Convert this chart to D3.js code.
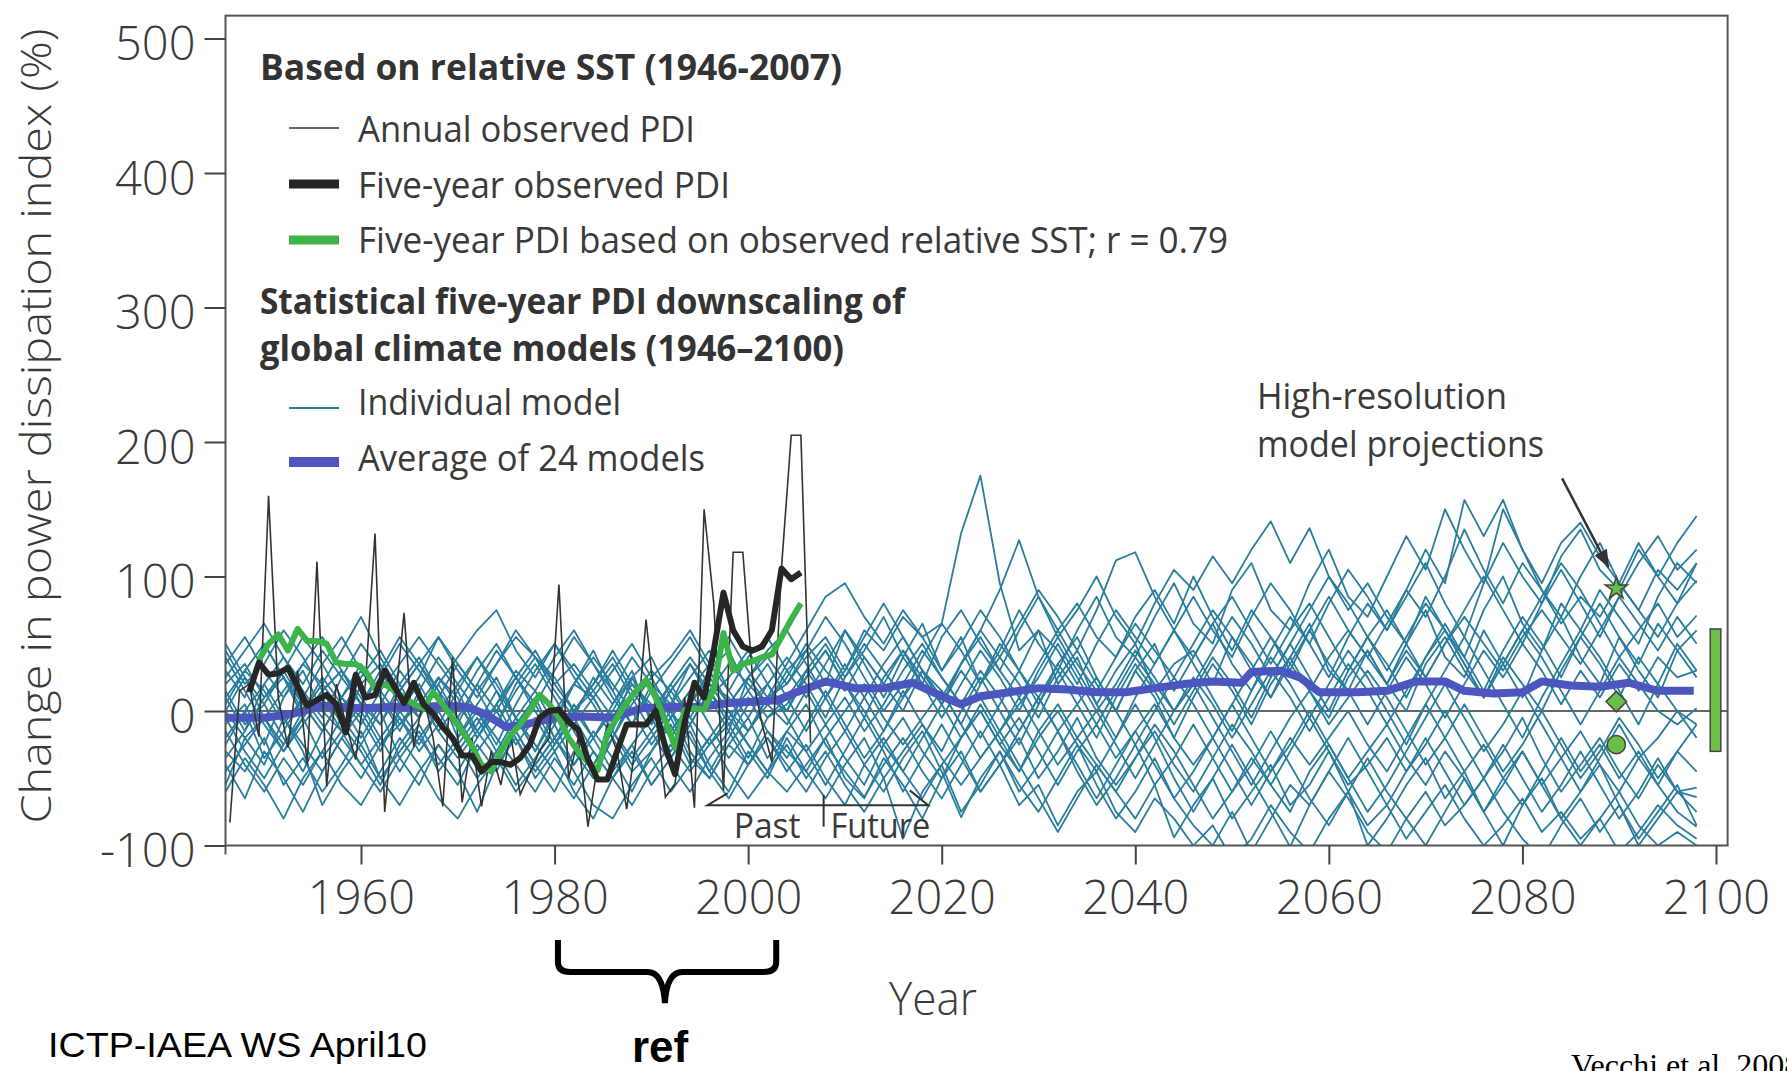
<!DOCTYPE html>
<html>
<head>
<meta charset="utf-8">
<script src="https://cdn.jsdelivr.net/npm/d3@7"></script>
<style>
  body { margin: 0; background: #fff; }
  svg { display: block; font-family: "Open Sans", sans-serif; }
</style>
</head>
<body>
<svg width="1787" height="1071"></svg>
<script>
// ---- data ----
const yTicks = [-100, 0, 100, 200, 300, 400, 500];
const xTicks = [1960, 1980, 2000, 2020, 2040, 2060, 2080, 2100];

// annual observed PDI, 1946-2006
const annualYears = d3.range(1946, 2007);
const annualPDI = [
  -83, 15, 20, -19, 160, 10, -27, 30, -40, 111,
  -56, 20, -10, -36, 20, 132, -75, 0, 73, -27,
  10, -20, -71, 40, -68, -20, -71, -30, -55, -17,
  -62, -46, -30, -20, 94, -50, -20, -86, -40, -10,
  -30, -73, -20, 68, 0, -64, -54, 10, -72, 150,
  80, -59, 118, 118, 25, -10, -38, 107, 205, 205, -24
];

// five-year observed PDI, 1948-2005
const fiveYearYears = d3.range(1948, 2006);
const fiveYearPDI = [
  14, 36, 27, 28, 32, 18, 4, 8, 12, 5,
  -16, 27, 10, 12, 30, 18, 6, 21, 5, -2,
  -12, -20, -33, -33, -45, -38, -38, -40, -35, -25,
  -5, 0, 1, -8, -14, -36, -51, -51, -30, -10,
  -10, -10, 0, -27, -47, -8, 21, 10, 45, 88,
  60, 48, 45, 48, 60, 106, 98, 103
];

// five-year PDI from observed relative SST, 1949-2005
const sstYears = d3.range(1949, 2006);
const sstPDI = [
  38, 50, 57, 45, 61, 52, 52, 50, 36, 35,
  35, 30, 17, 20, 15, 10, 5, 2, 14, 5,
  -5, -15, -26, -40, -45, -30, -18, -10, 0, 12,
  5, -5, -20, -30, -38, -44, -17, -5, 6, 15,
  23, 10, -7, -27, 1, 2, 1, 16, 58, 30,
  35, 37, 40, 42, 55, 68, 80
];

// average of 24 models
const avgYears = [1946, 1950, 1953, 1956, 1960, 1963, 1966, 1969, 1971, 1973,
  1975, 1977, 1980, 1983, 1986, 1989, 1992, 1995, 1998, 2001,
  2003, 2005, 2008, 2011, 2014, 2017, 2020, 2022, 2024, 2027,
  2030, 2033, 2036, 2039, 2042, 2045, 2048, 2051, 2052, 2055,
  2057, 2059, 2063, 2066, 2069, 2072, 2074, 2077, 2080, 2082,
  2085, 2088, 2091, 2094, 2097.7];
const avgPDI = [-5, -5, -2, 4, 2, 3, 3, 4, 3, -3,
  -12, -10, -5, -4, -5, 2, 3, 3, 6, 7,
  8, 14, 22, 17, 17, 21, 11, 5, 11, 14,
  17, 16, 14, 14, 17, 20, 22, 21, 29, 30,
  25, 14, 14, 15, 22, 22, 15, 13, 14, 22,
  19, 18, 21, 15, 15];

// individual downscaled models, every second year 1946-2098
const modelYears = d3.range(1946, 2099, 2);
const modelRuns = [
  [20,35,10,25,-5,15,30,5,-10,20, 40,15,-20,5,25,-5,-30,0,20,10, -15,25,40,10,-10,15,35,20,5,30,
   45,20,60,35,10,40,65,30,55,20, 45,75,50,30,60,85,55,40,70,95, 65,50,90,110,75,60,95,120,85,70,
   100,130,105,150,120,95,125,100,80,115, 135,105,90,120,100,125,145],
  [-10,5,-25,10,30,0,-15,20,35,10, -5,25,10,-20,5,30,15,-10,20,45, 15,-10,20,5,35,10,-15,25,40,20,
   40,55,30,60,45,70,55,65,132,175, 95,45,60,20,40,5,30,50,15,35, 45,20,55,35,10,40,65,30,15,45,
   20,50,75,40,25,60,35,10,45,70, 40,20,55,30,10,45,25],
  [-30,-45,-20,-55,-35,-60,-40,-15,-50,-30, -10,-35,-55,-25,-45,-15,-40,-60,-30,-50, -20,-45,-30,-5,-35,-50,-25,-40,-15,-30,
   -45,-20,-50,-65,-35,-55,-80,-50,-30,-60, -40,-70,-55,-85,-60,-45,-75,-90,-65,-80, -100,-85,-110,-95,-70,-90,-105,-80,-60,-85,
   -70,-95,-75,-55,-80,-100,-85,-65,-90,-75, -95,-80,-105,-90,-70,-85,-95],
  [10,-15,20,40,15,-5,25,50,30,5, 25,55,30,10,35,60,40,15,-5,25, 5,30,-10,15,35,10,25,45,20,0,
   30,50,25,45,70,40,20,55,75,50, 30,60,85,55,75,100,70,50,80,105, 90,115,95,120,141,110,136,100,75,95,
   70,50,85,60,40,75,100,65,45,80, 60,90,70,50,85,110,95],
  [45,20,35,60,40,15,30,5,25,50, 30,10,35,15,-10,20,40,25,0,15, 35,10,-15,5,25,45,15,-5,20,40,
   20,-5,25,50,30,10,40,65,45,20, 50,30,5,35,55,25,0,30,50,15, 40,65,35,15,45,70,50,25,55,80,
   60,85,110,80,55,95,150,120,90,70, 100,125,95,75,105,90,110],
  [-55,-20,-40,-5,-30,-70,-45,-25,0,-35, -55,-25,-45,-75,-40,-20,-50,-30,-60,-80, -50,-30,-55,-35,-10,-40,-60,-30,-50,-20,
   -45,-65,-40,-20,-50,-95,-60,-40,-75,-55, -30,-60,-40,-15,-45,-70,-50,-25,-55,-94, -70,-50,-80,-60,-40,-70,-55,-30,-60,-100,
   -80,-55,-35,-65,-45,-75,-100,-70,-50,-80, -60,-40,-70,-95,-75,-55,-85],
  [5,30,15,-10,10,35,55,30,10,-15, 15,40,20,0,-25,5,30,50,25,5, -20,10,30,15,-5,20,10,-15,5,25,
   50,30,15,40,20,0,30,15,-10,20, 40,20,-5,25,45,20,0,30,10,-20, 10,35,15,-10,20,40,15,-5,25,45,
   20,0,35,55,30,10,40,20,0,30, 55,35,10,40,20,50,30],
  [-20,0,-35,-15,10,-10,-30,-50,-25,-5, -30,-10,15,-15,-35,-10,10,-20,-40,-15, -35,-60,-30,-10,-40,-20,0,-25,-45,-15,
   -30,-10,-35,-55,-25,-5,-30,-50,-20,0, -25,-45,-15,5,-20,-40,-60,-35,-15,-40, -60,-35,-10,-30,-55,-75,-45,-25,-50,-30,
   -10,-35,-55,-30,-50,-75,-50,-30,-55,-35, -15,-40,-60,-35,-55,-30,-45],
  [30,10,50,25,0,20,45,70,40,15, 35,10,-10,20,45,25,5,30,55,35, 15,40,20,-5,15,35,55,30,10,35,
   60,85,95,70,50,75,55,30,50,75, 55,30,60,45,20,50,75,55,35,60, 85,60,40,70,95,75,50,80,105,85,
   60,90,120,95,157,130,157,120,95,125, 140,115,95,125,100,80,110],
  [-40,-65,-30,-50,-75,-45,-20,-40,-60,-35, -15,-45,-25,-5,-30,-55,-35,-10,-40,-20, -45,-25,-55,-35,-15,-45,-65,-40,-20,-45,
   -25,-50,-70,-40,-60,-35,-15,-45,-79,-50, -30,-55,-75,-50,-25,-55,-80,-60,-35,-65, -85,-100,-75,-105,-80,-55,-70,-45,-65,-90,
   -105,-80,-60,-85,-70,-50,-75,-95,-110,-85, -65,-90,-70,-100,-80,-60,-75],
  [15,-10,5,-20,-45,-15,10,-5,-30,0, 20,-5,-30,-10,15,-15,-40,-20,5,-20, 0,25,-5,-30,-10,15,-10,-35,-5,10,
   -15,10,35,10,-15,15,-10,-30,0,25, 0,-25,5,30,5,-20,10,35,15,-10, 15,40,20,-5,25,50,25,0,30,55,
   35,10,40,65,40,15,45,70,50,25, 55,80,55,35,65,45,60],
  [0,25,-5,-25,0,25,5,-20,5,30, 10,-15,5,30,50,25,0,-25,0,20, 45,20,0,-20,5,30,45,15,-5,5,
   25,45,20,-5,25,45,20,-5,20,45, 25,0,30,55,30,5,-20,10,35,60, 35,10,-15,15,40,20,-5,20,45,25,
   0,-25,5,30,55,30,5,-20,10,35, 60,40,15,-10,20,0,-20],
  [-5,-30,-50,-25,-5,-35,-15,5,-20,-45, -20,0,-25,-50,-30,-5,-25,-45,-65,-40, -15,-40,-20,0,-30,-50,-25,-5,-35,-15,
   5,-25,-45,-64,-40,-20,-45,-65,-40,-15, -40,-20,-50,-30,-5,-35,-55,-35,-10,-30, -55,-80,-60,-35,-55,-30,-5,-30,-55,-40,
   -20,-45,-25,0,-25,-50,-30,-5,-35,-60, -40,-20,-45,-65,-40,-60,-64],
  [35,55,30,10,35,20,0,25,45,20, -5,20,40,60,75,45,25,50,30,10, 30,50,25,40,60,35,15,40,55,30,
   10,35,60,40,20,45,25,5,35,60, 90,127,85,60,80,55,40,70,90,65, 100,70,45,75,55,30,60,85,60,40,
   65,90,70,100,135,105,80,110,90,65, 85,70,95,75,55,80,97],
  [-25,0,20,-5,-25,-45,-20,0,-25,-10, 10,-15,-35,-15,5,-20,-45,-25,-5,-30, -50,-25,-5,20,-5,-25,-10,10,-15,-35,
   -10,15,-10,-35,-15,10,30,5,-20,5, -20,-45,-20,0,-25,-45,-20,5,-20,-50, -75,-50,-25,-50,-75,-101,-70,-45,-20,-45,
   -70,-45,-20,-45,-70,-50,-25,-50,-75,-55, -30,-55,-80,-60,-35,-60,-57],
  [50,25,5,30,55,35,10,-10,15,35, 55,35,15,40,20,-5,15,40,60,35, 10,-10,15,35,55,30,5,25,45,60,
   35,10,30,55,80,55,30,5,35,60, 40,65,90,70,45,75,112,118,85,60, 40,65,85,60,35,60,80,55,30,55,
   75,50,25,50,75,100,75,50,80,105, 80,55,85,110,130,105,120],
  [-60,-35,-55,-80,-50,-30,-55,-70,-45,-20, -40,-65,-80,-55,-35,-60,-40,-20,-45,-70, -80,-55,-35,-60,-40,-20,-45,-65,-45,-25,
   -50,-30,-55,-75,-50,-30,-10,-35,-55,-35, -15,-40,-65,-90,-65,-40,-60,-80,-55,-35, -10,-35,-60,-40,-15,-40,-65,-85,-60,-35,
   -60,-80,-100,-75,-50,-75,-55,-30,-55,-80, -100,-80,-60,-85,-100,-90,-100],
  [25,45,65,40,20,45,25,5,30,55, 35,15,-5,20,0,25,45,20,0,-20, 5,25,0,20,40,20,0,-15,10,20,
   45,70,50,25,0,20,45,25,5,30, 10,-15,10,35,15,-10,15,40,20,0, 25,5,-20,5,30,10,-15,10,35,15,
   -10,15,40,60,35,10,35,60,40,15, -10,15,40,20,0,-10,2],
  [-35,-15,10,30,5,-15,10,35,15,-5, -25,0,20,40,15,-5,-30,-5,20,40, 20,0,-25,-5,15,-10,-35,-15,10,0,
   25,45,20,0,-25,-45,-20,5,30,10, -15,5,25,50,25,0,20,45,25,0, 20,45,70,50,25,50,75,100,80,55,
   30,55,80,60,35,10,35,60,85,110, 90,65,40,60,80,55,71],
  [40,15,-10,-30,-5,15,-10,-30,-55,-25, -5,20,-5,-30,-10,15,35,10,-15,-40, -20,5,25,0,-20,-45,-20,5,20,-5,
   -30,-55,-30,-5,-30,-60,-35,-10,-35,-60, -40,-15,10,-15,-40,-65,-40,-15,-40,-65, -45,-20,5,-20,-45,-25,0,-25,-50,-75,
   -55,-30,-5,20,-5,-30,-10,15,-10,-35, -60,-35,-10,-35,-20,0,-10],
  [10,30,50,25,5,-15,10,30,10,-10, 5,25,5,-15,5,25,5,-20,0,20, 40,15,-5,15,35,15,-5,15,35,10,
   30,10,-15,10,35,55,30,10,35,55, 30,10,35,60,35,15,40,65,45,25, 50,75,55,30,55,35,15,40,60,40,
   20,45,25,50,70,50,30,55,75,55, 35,60,85,65,45,70,50],
  [-15,-40,-60,-35,-55,-30,-5,-25,-50,-70, -45,-25,-45,-20,0,-25,-5,-30,-10,10, -15,-35,-15,-40,-60,-35,-15,-40,-20,-40,
   -60,-35,-15,-40,-20,-45,-65,-40,-20,0, -25,-5,-30,-55,-30,-10,-35,-15,5,-20, -40,-20,-45,-70,-45,-20,-40,-20,0,-25,
   -45,-20,5,-20,-45,-25,-50,-70,-45,-20, -45,-25,-50,-30,-55,-75,-86],
  [0,-20,-5,15,35,55,30,10,-10,15, 35,55,35,15,35,55,40,20,35,15, -5,20,5,-15,5,25,5,25,5,-10,
   15,-10,10,-15,5,30,50,25,5,-20, 5,30,10,-15,5,25,0,-25,0,25, 5,-20,5,30,10,35,60,35,15,-10,
   15,40,20,-5,20,45,25,50,30,5, 30,10,35,15,40,25,30],
  [-45,-25,-5,-30,-10,10,-15,-40,-20,0, -20,-40,-20,0,-20,-40,-60,-35,-55,-30, -50,-70,-45,-25,-45,-25,-5,-25,-45,-60,
   -40,-20,0,20,-5,-25,-5,15,-10,-35, -15,10,-15,-40,-20,0,-25,-50,-25,0, 20,-5,-30,-55,-30,-5,15,-10,10,30,
   10,-15,-40,-20,5,-20,-45,-25,0,-25, -50,-30,-5,-25,-50,-30,-10]
];

// high-resolution model projections (year, value) and their range bar
const hiResYear = 2089.7;
const hiResStar = 91, hiResDiamond = 7, hiResCircle = -25;
const rangeBar = { from: 2099.4, to: 2100.5, low: -30, high: 61 };

// ---- drawing ----
const svg = d3.select("svg");
const textColor = "#3a3a3a";
const modelColor = "#2a7e9d";

const x = d3.scaleLinear().domain([1946, 2100]).range([225.5, 1716]);
const y = d3.scaleLinear().domain([-100, 500]).range([845.5, 38.5]);
const xLeft = x(1946), xRight = x(2101.2), yTop = y(517), yBottom = y(-100);

svg.append("rect").attr("width", 1787).attr("height", 1071).attr("fill", "#fff");

svg.append("defs").append("clipPath").attr("id", "plotClip")
  .append("rect").attr("x", xLeft).attr("y", yTop)
  .attr("width", xRight - xLeft).attr("height", yBottom - yTop);

svg.select("defs").append("marker")
  .attr("id", "arrowHead").attr("markerUnits", "userSpaceOnUse")
  .attr("markerWidth", 18).attr("markerHeight", 14)
  .attr("refX", 17).attr("refY", 7).attr("orient", "auto")
  .append("path").attr("d", "M0,0 L18,7 L0,14 Z").attr("fill", "#333");

// helper for text of a given width
function label(g, txt, px, py, size, opts = {}) {
  const t = g.append("text")
    .attr("x", px).attr("y", py)
    .attr("font-size", size)
    .attr("fill", opts.fill || textColor)
    .attr("font-weight", opts.weight || 400)
    .attr("text-anchor", opts.anchor || "start")
    .text(txt);
  if (opts.family) t.attr("font-family", opts.family);
  if (opts.width) t.attr("textLength", opts.width).attr("lengthAdjust", "spacingAndGlyphs");
  return t;
}

// zero line
svg.append("line")
  .attr("x1", xLeft).attr("x2", xRight).attr("y1", y(0)).attr("y2", y(0))
  .attr("stroke", "#666").attr("stroke-width", 2);

const plot = svg.append("g").attr("clip-path", "url(#plotClip)");
const line = d3.line().x(d => x(d[0])).y(d => y(d[1]));
const pairs = (years, vals) => vals.map((v, i) => [years[i], v]);

plot.selectAll(".model").data(modelRuns).join("path")
  .attr("class", "model")
  .attr("d", run => line(pairs(modelYears, run)))
  .attr("fill", "none").attr("stroke", modelColor)
  .attr("stroke-width", 1.8).attr("stroke-linejoin", "round");

plot.append("path")
  .attr("d", line(pairs(avgYears, avgPDI)))
  .attr("fill", "none").attr("stroke", "#4b57be").attr("stroke-width", 8)
  .attr("stroke-linejoin", "round");

// observed series are plotted mid-year
const midYear = years => years.map(t => t + 0.45);

plot.append("path")
  .attr("d", line(pairs(midYear(annualYears), annualPDI)))
  .attr("fill", "none").attr("stroke", "#333").attr("stroke-width", 1.6);

plot.append("path")
  .attr("d", line(pairs(midYear(sstYears), sstPDI)))
  .attr("fill", "none").attr("stroke", "#3cb44a").attr("stroke-width", 6)
  .attr("stroke-linejoin", "round");

plot.append("path")
  .attr("d", line(pairs(midYear(fiveYearYears), fiveYearPDI)))
  .attr("fill", "none").attr("stroke", "#262626").attr("stroke-width", 6)
  .attr("stroke-linejoin", "round");

// high-resolution projections
const markerFill = "#68bf45";
const hiRes = svg.append("g").attr("stroke", "#444").attr("stroke-width", 1.5).attr("fill", markerFill);
hiRes.append("path")
  .attr("d", d3.symbol().type(d3.symbolStar).size(150)())
  .attr("transform", `translate(${x(hiResYear)},${y(hiResStar)})`);
hiRes.append("path")
  .attr("d", d3.symbol().type(d3.symbolSquare).size(210)())
  .attr("transform", `translate(${x(hiResYear)},${y(hiResDiamond)}) rotate(45)`);
hiRes.append("path")
  .attr("d", d3.symbol().type(d3.symbolCircle).size(260)())
  .attr("transform", `translate(${x(hiResYear)},${y(hiResCircle)})`);

svg.append("rect")
  .attr("x", x(rangeBar.from)).attr("width", x(rangeBar.to) - x(rangeBar.from))
  .attr("y", y(rangeBar.high)).attr("height", y(rangeBar.low) - y(rangeBar.high))
  .attr("fill", "#6cc04a").attr("stroke", "#444").attr("stroke-width", 1.5);

svg.append("line")
  .attr("x1", x(2084.1)).attr("y1", y(173))
  .attr("x2", x(2088.9)).attr("y2", y(107))
  .attr("stroke", "#333").attr("stroke-width", 2.5)
  .attr("marker-end", "url(#arrowHead)");

label(svg, "High-resolution", 1257, 409, 36, { width: 250 });
label(svg, "model projections", 1257, 457, 36, { width: 287 });

// past / future bracket
const bracket = svg.append("g").attr("fill", "none").attr("stroke", "#333").attr("stroke-width", 2);
bracket.append("path").attr("d", d3.line()([
  [x(1997.9), y(-61)], [x(1995.8), y(-70)], [x(2018.6), y(-70)], [x(2016.7), y(-59)]
]));
bracket.append("line")
  .attr("x1", x(2007.8)).attr("x2", x(2007.8))
  .attr("y1", y(-62.5)).attr("y2", y(-86));
label(svg, "Past", x(1998.5), 838, 34, { width: 67 });
label(svg, "Future", x(2008.5), 838, 34, { width: 100 });

// frame
svg.append("rect")
  .attr("x", xLeft).attr("y", yTop)
  .attr("width", xRight - xLeft).attr("height", yBottom - yTop)
  .attr("fill", "none").attr("stroke", "#555").attr("stroke-width", 2);
svg.append("line")
  .attr("x1", xLeft).attr("x2", xLeft).attr("y1", yBottom).attr("y2", yBottom + 9)
  .attr("stroke", "#555").attr("stroke-width", 2);

// axes
const yAxis = svg.append("g")
  .attr("transform", `translate(${xLeft},0)`)
  .call(d3.axisLeft(y).tickValues(yTicks).tickSize(21).tickPadding(9)
    .tickFormat(d => d < 0 ? "-" + Math.abs(d) : String(d)));
const xAxis = svg.append("g")
  .attr("transform", `translate(0,${yBottom})`)
  .call(d3.axisBottom(x).tickValues(xTicks).tickFormat(d3.format("d")).tickSize(19).tickPadding(16));
[yAxis, xAxis].forEach(a => {
  a.select(".domain").remove();
  a.selectAll(".tick line").attr("stroke", "#444").attr("stroke-width", 2);
  a.selectAll(".tick text")
    .attr("font-family", "'Open Sans', sans-serif")
    .attr("font-size", 47).attr("font-weight", 300)
    .attr("fill", textColor);
});
yAxis.selectAll(".tick text").attr("dy", "0.45em");

// axis titles
svg.append("text")
  .attr("transform", "translate(51,426) rotate(-90)")
  .attr("text-anchor", "middle")
  .attr("font-size", 42).attr("font-weight", 300).attr("fill", textColor)
  .attr("textLength", 795).attr("lengthAdjust", "spacingAndGlyphs")
  .text("Change in power dissipation index (%)");
label(svg, "Year", 933, 1015, 46, { anchor: "middle", width: 88, weight: 300 });

// legend
const legend = svg.append("g");
const swatch = (py, color, w) => legend.append("line")
  .attr("x1", 289).attr("x2", 339).attr("y1", py).attr("y2", py)
  .attr("stroke", color).attr("stroke-width", w);

label(legend, "Based on relative SST (1946-2007)", 260, 80, 35, { weight: 700, fill: "#333", width: 582 });
swatch(128, "#333", 1.6);
label(legend, "Annual observed PDI", 358, 142, 37, { width: 337 });
swatch(184, "#262626", 9);
label(legend, "Five-year observed PDI", 358, 198, 37, { width: 372 });
swatch(240, "#3cb44a", 9);
label(legend, "Five-year PDI based on observed relative SST; r = 0.79", 358, 253, 37, { width: 870 });
label(legend, "Statistical five-year PDI downscaling of", 260, 314, 35, { weight: 700, fill: "#333", width: 645 });
label(legend, "global climate models (1946\u20132100)", 260, 361, 35, { weight: 700, fill: "#333", width: 584 });
swatch(408, modelColor, 1.8);
label(legend, "Individual model", 358, 415, 37, { width: 263 });
swatch(462, "#4b57be", 10);
label(legend, "Average of 24 models", 358, 471, 37, { width: 347 });

// slide annotations below the chart
svg.append("path")
  .attr("d", `M${x(1980.35)},940 L${x(1980.35)},962 Q${x(1980.35)},972 ${x(1981.6)},972
              L${x(1989.6)},972 Q${x(1991.2)},972 ${x(1991.4)},1003
              Q${x(1991.6)},972 ${x(1993.2)},972 L${x(2001.6)},972
              Q${x(2002.9)},972 ${x(2002.9)},962 L${x(2002.9)},940`)
  .attr("fill", "none").attr("stroke", "#000").attr("stroke-width", 6);

label(svg, "ICTP-IAEA WS April10", 48, 1057, 35, { family: "'Liberation Sans', Arial, sans-serif", fill: "#000", width: 379 });
label(svg, "ref", 660, 1062, 44, { family: "'Liberation Sans', Arial, sans-serif", fill: "#000", weight: 700, anchor: "middle" });
label(svg, "Vecchi et al. 2008", 1571, 1076, 32, { family: "'Liberation Serif', 'Times New Roman', serif", fill: "#000" });
</script>
</body>
</html>
